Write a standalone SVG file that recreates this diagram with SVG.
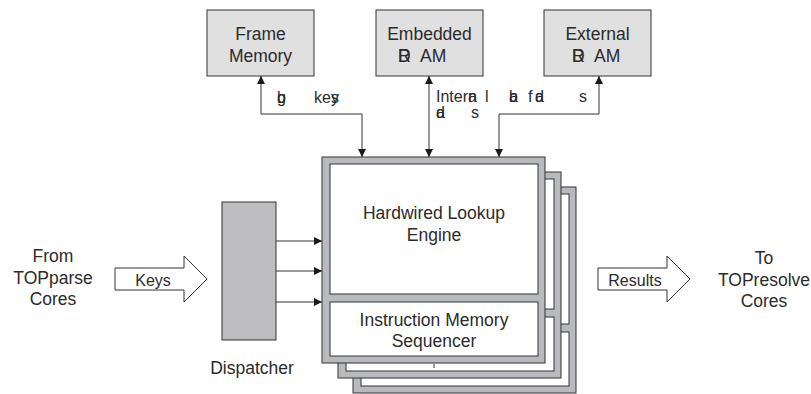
<svg xmlns="http://www.w3.org/2000/svg" width="811" height="394" viewBox="0 0 811 394">
  <style>
    .t { font-family: "Liberation Sans", Arial, sans-serif; font-size: 17.5px; fill: #2b2b2b; }
    .s { font-size: 16px; }
    .m { text-anchor: middle; }
    .mem { fill: #e0e0e0; stroke: #333; stroke-width: 1; }
    .disp { fill: #bdbdc0; stroke: #333; stroke-width: 1; }
    .frame { fill: #b9babd; stroke: #333; stroke-width: 1; }
    .pane { fill: #fff; stroke: #333; stroke-width: 1; }
    .wire { fill: none; stroke: #333; stroke-width: 1; }
    .big { fill: #fff; stroke: #333; stroke-width: 1; }
  </style>
  <defs>
    <marker id="ah" viewBox="0 0 10 10" refX="10" refY="5" markerWidth="8" markerHeight="8" markerUnits="userSpaceOnUse" orient="auto-start-reverse">
      <path d="M0,0 L10,5 L0,10 z" fill="#1a1a1a"/>
    </marker>
    <!-- one lookup engine: grey frame with two white panes -->
    <g id="engine">
      <rect class="frame" x="0" y="0" width="223" height="206"/>
      <rect class="pane" x="8" y="7" width="208" height="130"/>
      <rect class="pane" x="8" y="145" width="208" height="54"/>
    </g>
  </defs>

  <!-- memories -->
  <g id="frame-memory">
    <rect class="mem" x="207" y="10" width="107" height="66"/>
    <text class="t m" x="260.5" y="40">Frame</text>
    <text class="t m" x="260.5" y="62">Memory</text>
  </g>
  <g id="embedded-ram">
    <rect class="mem" x="376" y="10" width="107" height="66"/>
    <text class="t m" x="429.5" y="40">Embedded</text>
    <text class="t" x="398" y="62">D</text>
    <text class="t" x="398" y="62">R</text>
    <text class="t" x="420" y="62">AM</text>
  </g>
  <g id="external-ram">
    <rect class="mem" x="544" y="10" width="107" height="66"/>
    <text class="t m" x="597.5" y="40">External</text>
    <text class="t" x="572" y="62">D</text>
    <text class="t" x="572" y="62">R</text>
    <text class="t" x="594" y="62">AM</text>
  </g>

  <!-- stacked lookup engines, back to front -->
  <g id="engine-3">
    <use href="#engine" x="353" y="187"/>
  </g>
  <g id="engine-2">
    <use href="#engine" x="338" y="172"/>
    <line class="wire" x1="434" y1="364" x2="434" y2="368"/>
  </g>
  <g id="engine-1">
    <use href="#engine" x="322" y="157"/>
    <text class="t m" x="434" y="219">Hardwired Lookup</text>
    <text class="t m" x="434" y="241">Engine</text>
    <text class="t m" x="434" y="326">Instruction Memory</text>
    <text class="t m" x="434" y="347">Sequencer</text>
  </g>

  <!-- dispatcher -->
  <g id="dispatcher">
    <rect class="disp" x="222" y="202" width="54" height="138"/>
    <text class="t m" x="252" y="374">Dispatcher</text>
  </g>

  <!-- input and output -->
  <g id="source">
    <text class="t m" x="53" y="262">From</text>
    <text class="t m" x="53" y="284">TOPparse</text>
    <text class="t m" x="53" y="305">Cores</text>
  </g>
  <g id="keys-arrow">
    <polygon class="big" points="115,268 184,268 184,256 207,279 184,302 184,290 115,290"/>
    <text class="t s m" x="153" y="286">Keys</text>
  </g>
  <g id="results-arrow">
    <polygon class="big" points="598,268 667,268 667,256 690,279 667,302 667,290 598,290"/>
    <text class="t s m" x="635" y="286">Results</text>
  </g>
  <g id="sink">
    <text class="t m" x="764" y="264">To</text>
    <text class="t m" x="764" y="286">TOPresolve</text>
    <text class="t m" x="764" y="307">Cores</text>
  </g>

  <!-- connectors -->
  <g id="connectors">
    <polyline class="wire" points="362,157 362,114 261,114 261,76" marker-start="url(#ah)" marker-end="url(#ah)"/>
    <line class="wire" x1="429" y1="76" x2="429" y2="157" marker-start="url(#ah)" marker-end="url(#ah)"/>
    <polyline class="wire" points="499,157 499,114 599,114 599,76" marker-start="url(#ah)" marker-end="url(#ah)"/>
    <line class="wire" x1="276" y1="241" x2="322" y2="241" marker-end="url(#ah)"/>
    <line class="wire" x1="276" y1="271" x2="322" y2="271" marker-end="url(#ah)"/>
    <line class="wire" x1="276" y1="302" x2="322" y2="302" marker-end="url(#ah)"/>
  </g>

  <!-- connector labels -->
  <g id="labels">
    <text class="t s" x="277" y="103">b</text>
    <text class="t s" x="277" y="103">g</text>
    <text class="t s" x="314" y="103">ke</text>
    <text class="t s" x="331" y="103">y</text>
    <text class="t s" x="331" y="103">s</text>

    <text class="t s" x="436" y="102">Inter</text>
    <text class="t s" x="468" y="102">a</text>
    <text class="t s" x="468" y="102">n</text>
    <text class="t s" x="485" y="102">l</text>
    <text class="t s" x="509" y="102">b</text>
    <text class="t s" x="509" y="102">a</text>
    <text class="t s" x="528" y="102">f</text>
    <text class="t s" x="535" y="102">d</text>
    <text class="t s" x="535" y="102">a</text>
    <text class="t s" x="579" y="102">s</text>
    <text class="t s" x="436" y="118">d</text>
    <text class="t s" x="436" y="118">a</text>
    <text class="t s" x="471" y="118">s</text>
  </g>
</svg>
